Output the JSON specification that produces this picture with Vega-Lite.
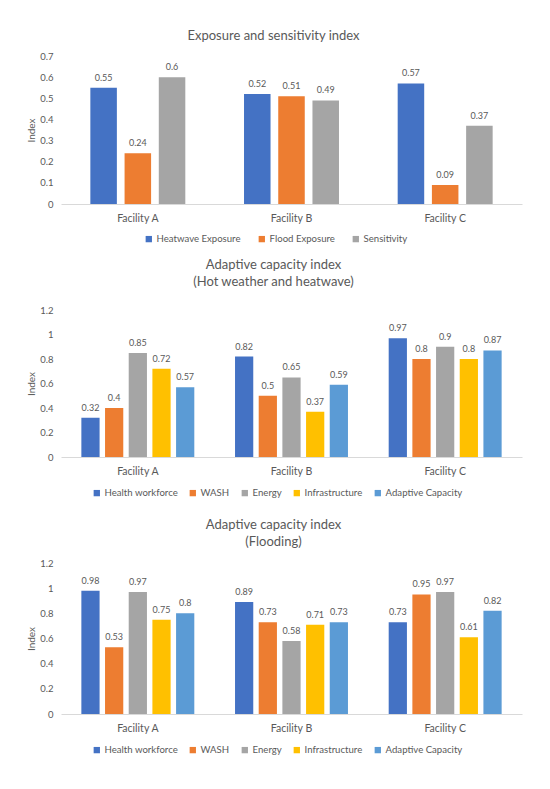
{
  "$schema": "https://vega.github.io/schema/vega-lite/v6.json",
  "padding": {"top": 30, "left": 26, "right": 5, "bottom": 5},
  "background": "white",
  "datasets": {
    "exposure": [
      {"facility": "Facility A", "indicator": "Heatwave Exposure", "value": 0.55},
      {"facility": "Facility A", "indicator": "Flood Exposure", "value": 0.24},
      {"facility": "Facility A", "indicator": "Sensitivity", "value": 0.6},
      {"facility": "Facility B", "indicator": "Heatwave Exposure", "value": 0.52},
      {"facility": "Facility B", "indicator": "Flood Exposure", "value": 0.51},
      {"facility": "Facility B", "indicator": "Sensitivity", "value": 0.49},
      {"facility": "Facility C", "indicator": "Heatwave Exposure", "value": 0.57},
      {"facility": "Facility C", "indicator": "Flood Exposure", "value": 0.09},
      {"facility": "Facility C", "indicator": "Sensitivity", "value": 0.37}
    ],
    "heat": [
      {"facility": "Facility A", "indicator": "Health workforce", "value": 0.32},
      {"facility": "Facility A", "indicator": "WASH", "value": 0.4},
      {"facility": "Facility A", "indicator": "Energy", "value": 0.85},
      {"facility": "Facility A", "indicator": "Infrastructure", "value": 0.72},
      {"facility": "Facility A", "indicator": "Adaptive Capacity", "value": 0.57},
      {"facility": "Facility B", "indicator": "Health workforce", "value": 0.82},
      {"facility": "Facility B", "indicator": "WASH", "value": 0.5},
      {"facility": "Facility B", "indicator": "Energy", "value": 0.65},
      {"facility": "Facility B", "indicator": "Infrastructure", "value": 0.37},
      {"facility": "Facility B", "indicator": "Adaptive Capacity", "value": 0.59},
      {"facility": "Facility C", "indicator": "Health workforce", "value": 0.97},
      {"facility": "Facility C", "indicator": "WASH", "value": 0.8},
      {"facility": "Facility C", "indicator": "Energy", "value": 0.9},
      {"facility": "Facility C", "indicator": "Infrastructure", "value": 0.8},
      {"facility": "Facility C", "indicator": "Adaptive Capacity", "value": 0.87}
    ],
    "flood": [
      {"facility": "Facility A", "indicator": "Health workforce", "value": 0.98},
      {"facility": "Facility A", "indicator": "WASH", "value": 0.53},
      {"facility": "Facility A", "indicator": "Energy", "value": 0.97},
      {"facility": "Facility A", "indicator": "Infrastructure", "value": 0.75},
      {"facility": "Facility A", "indicator": "Adaptive Capacity", "value": 0.8},
      {"facility": "Facility B", "indicator": "Health workforce", "value": 0.89},
      {"facility": "Facility B", "indicator": "WASH", "value": 0.73},
      {"facility": "Facility B", "indicator": "Energy", "value": 0.58},
      {"facility": "Facility B", "indicator": "Infrastructure", "value": 0.71},
      {"facility": "Facility B", "indicator": "Adaptive Capacity", "value": 0.73},
      {"facility": "Facility C", "indicator": "Health workforce", "value": 0.73},
      {"facility": "Facility C", "indicator": "WASH", "value": 0.95},
      {"facility": "Facility C", "indicator": "Energy", "value": 0.97},
      {"facility": "Facility C", "indicator": "Infrastructure", "value": 0.61},
      {"facility": "Facility C", "indicator": "Adaptive Capacity", "value": 0.82}
    ]
  },
  "bounds": "flush",
  "spacing": 106,
  "resolve": {
    "scale": {"color": "independent", "x": "independent", "y": "independent", "xOffset": "independent"},
    "legend": {"color": "independent"}
  },
  "vconcat": [
    {
      "width": 461,
      "height": 148,
      "data": {"name": "exposure"},
      "title": {"text": "Exposure and sensitivity index", "offset": 8},
      "encoding": {
        "x": {
          "field": "facility",
          "type": "nominal",
          "scale": {"paddingInner": 0.382, "paddingOuter": 0.191},
          "axis": {"title": null}
        },
        "xOffset": {
          "field": "indicator",
          "type": "nominal",
          "sort": ["Heatwave Exposure", "Flood Exposure", "Sensitivity"],
          "scale": {"paddingInner": 0.225, "paddingOuter": 0}
        },
        "y": {
          "field": "value",
          "type": "quantitative",
          "scale": {"domain": [0, 0.7]},
          "axis": {"title": "Index", "values": [0, 0.1, 0.2, 0.3, 0.4, 0.5, 0.6, 0.7]}
        }
      },
      "layer": [
        {
          "mark": {"type": "bar"},
          "encoding": {
            "color": {
              "field": "indicator",
              "type": "nominal",
              "scale": {
                "domain": ["Heatwave Exposure", "Flood Exposure", "Sensitivity"],
                "range": ["#4472C4", "#ED7D31", "#A5A5A5"]
              },
              "legend": {"title": null, "orient": "none", "direction": "horizontal", "legendX": 83, "legendY": 178, "columnPadding": 16}
            }
          }
        },
        {
          "mark": {"type": "text", "baseline": "bottom", "dy": -5, "fontSize": 9, "color": "#595959"},
          "encoding": {"text": {"field": "value", "type": "quantitative"}}
        }
      ]
    },
    {
      "width": 461,
      "height": 147,
      "data": {"name": "heat"},
      "title": {"text": ["Adaptive capacity index", "(Hot weather and heatwave)"], "offset": 16},
      "encoding": {
        "x": {
          "field": "facility",
          "type": "nominal",
          "scale": {"paddingInner": 0.265, "paddingOuter": 0.1325},
          "axis": {"title": null}
        },
        "xOffset": {
          "field": "indicator",
          "type": "nominal",
          "sort": ["Health workforce", "WASH", "Energy", "Infrastructure", "Adaptive Capacity"],
          "scale": {"paddingInner": 0.23, "paddingOuter": 0}
        },
        "y": {
          "field": "value",
          "type": "quantitative",
          "scale": {"domain": [0, 1.2]},
          "axis": {"title": "Index", "values": [0, 0.2, 0.4, 0.6, 0.8, 1, 1.2]}
        }
      },
      "layer": [
        {
          "mark": {"type": "bar"},
          "encoding": {
            "color": {
              "field": "indicator",
              "type": "nominal",
              "scale": {
                "domain": ["Health workforce", "WASH", "Energy", "Infrastructure", "Adaptive Capacity"],
                "range": ["#4472C4", "#ED7D31", "#A5A5A5", "#FFC000", "#5B9BD5"]
              },
              "legend": {"title": null, "orient": "none", "direction": "horizontal", "legendX": 31, "legendY": 178}
            }
          }
        },
        {
          "mark": {"type": "text", "baseline": "bottom", "dy": -5, "fontSize": 9, "color": "#595959"},
          "encoding": {"text": {"field": "value", "type": "quantitative"}}
        }
      ]
    },
    {
      "width": 461,
      "height": 151,
      "data": {"name": "flood"},
      "title": {"text": ["Adaptive capacity index", "(Flooding)"], "offset": 9},
      "encoding": {
        "x": {
          "field": "facility",
          "type": "nominal",
          "scale": {"paddingInner": 0.265, "paddingOuter": 0.1325},
          "axis": {"title": null}
        },
        "xOffset": {
          "field": "indicator",
          "type": "nominal",
          "sort": ["Health workforce", "WASH", "Energy", "Infrastructure", "Adaptive Capacity"],
          "scale": {"paddingInner": 0.23, "paddingOuter": 0}
        },
        "y": {
          "field": "value",
          "type": "quantitative",
          "scale": {"domain": [0, 1.2]},
          "axis": {"title": "Index", "values": [0, 0.2, 0.4, 0.6, 0.8, 1, 1.2]}
        }
      },
      "layer": [
        {
          "mark": {"type": "bar"},
          "encoding": {
            "color": {
              "field": "indicator",
              "type": "nominal",
              "scale": {
                "domain": ["Health workforce", "WASH", "Energy", "Infrastructure", "Adaptive Capacity"],
                "range": ["#4472C4", "#ED7D31", "#A5A5A5", "#FFC000", "#5B9BD5"]
              },
              "legend": {"title": null, "orient": "none", "direction": "horizontal", "legendX": 31, "legendY": 182}
            }
          }
        },
        {
          "mark": {"type": "text", "baseline": "bottom", "dy": -5, "fontSize": 9, "color": "#595959"},
          "encoding": {"text": {"field": "value", "type": "quantitative"}}
        }
      ]
    }
  ],
  "config": {
    "font": "Lato",
    "view": {"stroke": null},
    "title": {
      "fontSize": 13,
      "fontWeight": "normal",
      "color": "#595959",
      "anchor": "middle",
      "frame": "group",
      "dx": -18,
      "lineHeight": 17
    },
    "axisX": {
      "labelAngle": 0,
      "ticks": false,
      "domainColor": "#D9D9D9",
      "labelPadding": 9,
      "labelFontSize": 10.5,
      "labelColor": "#595959",
      "grid": false
    },
    "axisY": {
      "domain": false,
      "ticks": false,
      "grid": false,
      "format": "~g",
      "labelPadding": 8,
      "labelFontSize": 9.5,
      "labelColor": "#595959",
      "titleFontSize": 10,
      "titleFontWeight": "normal",
      "titleColor": "#595959",
      "titlePadding": 3
    },
    "legend": {
      "labelFontSize": 9.6,
      "labelColor": "#595959",
      "symbolType": "square",
      "symbolSize": 40,
      "symbolStrokeWidth": 0,
      "labelOffset": 3,
      "columnPadding": 10,
      "padding": 0
    }
  }
}
